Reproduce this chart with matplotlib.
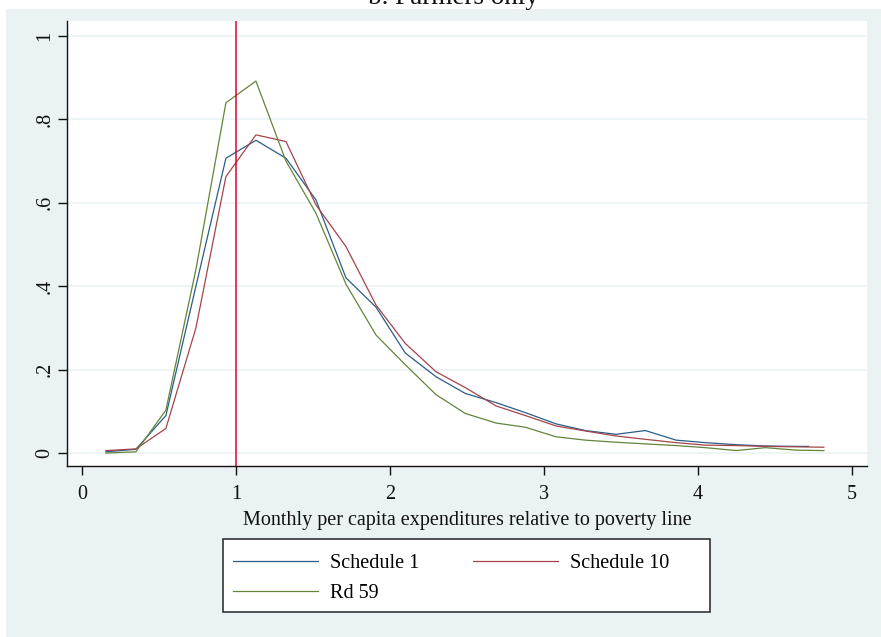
import matplotlib
matplotlib.use("Agg")
import matplotlib.pyplot as plt
from matplotlib.patches import Rectangle

# ---- data ----
x_s1 = [0.155, 0.35, 0.545, 0.74, 0.935, 1.13, 1.325, 1.52, 1.715, 1.91, 2.10, 2.30,
        2.49, 2.69, 2.88, 3.08, 3.27, 3.47, 3.66, 3.86, 4.05, 4.25, 4.44, 4.64, 4.72]
y_s1 = [0.003, 0.009, 0.090, 0.400, 0.707, 0.750, 0.707, 0.607, 0.420, 0.350, 0.240, 0.183,
        0.143, 0.121, 0.097, 0.070, 0.054, 0.045, 0.054, 0.031, 0.025, 0.020, 0.017, 0.016, 0.016]

x_s10 = [0.155, 0.35, 0.545, 0.74, 0.935, 1.13, 1.325, 1.52, 1.715, 1.91, 2.10, 2.30,
         2.49, 2.69, 2.88, 3.08, 3.27, 3.47, 3.66, 3.86, 4.05, 4.25, 4.44, 4.64, 4.82]
y_s10 = [0.006, 0.010, 0.059, 0.300, 0.663, 0.763, 0.747, 0.595, 0.495, 0.355, 0.263, 0.195,
         0.157, 0.113, 0.090, 0.065, 0.053, 0.041, 0.033, 0.025, 0.019, 0.018, 0.016, 0.015, 0.014]

x_rd59 = [0.155, 0.35, 0.545, 0.74, 0.935, 1.13, 1.325, 1.52, 1.715, 1.91, 2.10, 2.30,
          2.49, 2.69, 2.88, 3.08, 3.27, 3.47, 3.66, 3.86, 4.05, 4.25, 4.44, 4.64, 4.82]
y_rd59 = [0.000, 0.003, 0.103, 0.440, 0.840, 0.892, 0.700, 0.575, 0.405, 0.283, 0.212, 0.140,
          0.095, 0.072, 0.062, 0.039, 0.031, 0.026, 0.022, 0.018, 0.013, 0.006, 0.013, 0.007, 0.006]

series_labels = ["Schedule 1", "Schedule 10", "Rd 59"]
poverty_line = 1
x_ticks = [0, 1, 2, 3, 4, 5]
y_ticks = [0, 0.2, 0.4, 0.6, 0.8, 1]
y_tick_labels = ["0", ".2", ".4", ".6", ".8", "1"]
title = "b. Farmers only"
x_label = "Monthly per capita expenditures relative to poverty line"

# ---- style ----
plt.rcParams['font.family'] = ['Liberation Serif', 'DejaVu Serif']
W, H = 881, 637
bg = "#EAF2F3"
c_blue = "#2a5d88"
c_red = "#a4444a"
c_green = "#64843a"
ink = "#111111"

fig = plt.figure(figsize=(W / 100, H / 100), dpi=100, facecolor="white")
fig.patches.append(Rectangle((6 / W, 0), 1 - 6 / W, 1 - 9 / H, transform=fig.transFigure,
                             facecolor=bg, edgecolor="none", zorder=-10))

ax = fig.add_axes([67 / W, 1 - 466 / H, 800 / W, 445 / H])
ax.set_facecolor("white")
ax.set_xlim(-0.0975, 5.10)
ax.set_ylim(-0.031, 1.036)

for yt in y_ticks:
    ax.axhline(yt, color=bg, lw=1.2, zorder=0)

l1, = ax.plot(x_s1, y_s1, color=c_blue, lw=0.9, label=series_labels[0])
l2, = ax.plot(x_s10, y_s10, color=c_red, lw=0.9, label=series_labels[1])
l3, = ax.plot(x_rd59, y_rd59, color=c_green, lw=0.9, label=series_labels[2])
ax.axvline(poverty_line, color="#e3002b", lw=1.1, zorder=3)

for side in ["top", "right"]:
    ax.spines[side].set_visible(False)
for side in ["left", "bottom"]:
    ax.spines[side].set_color(ink)
    ax.spines[side].set_linewidth(1.0)

ax.set_xticks(x_ticks)
ax.set_xticklabels([str(t) for t in x_ticks])
ax.set_yticks(y_ticks)
ax.set_yticklabels(y_tick_labels, rotation=90, va="center")
ax.tick_params(axis="both", direction="out", length=6.5, width=1.0, color=ink,
               labelsize=14.5, labelcolor=ink)
ax.tick_params(axis="x", pad=7.5)
ax.tick_params(axis="y", pad=2.5)
ax.set_xlabel(x_label, fontsize=14.5, color=ink, labelpad=5)

fig.text(453 / W, 1 - 4 / H, title, ha="center", va="baseline", fontsize=19.5, color=ink)

# legend frame drawn as a figure rectangle, entries placed row-wise
fig.patches.append(Rectangle((223 / W, 1 - 612 / H), 487 / W, 73 / H, transform=fig.transFigure,
                             facecolor="white", edgecolor="#333333", lw=1.2, zorder=5))
leg = fig.legend(handles=[l1, l3, l2], labels=[series_labels[0], series_labels[2], series_labels[1]],
                 loc="upper left", bbox_to_anchor=(221 / W, 1 - 542 / H),
                 ncol=2, borderaxespad=0, fontsize=14.5,
                 handlelength=4.2, handletextpad=0.6, labelspacing=0.55,
                 columnspacing=2.7, borderpad=0.6, frameon=False)
leg.set_zorder(6)

fig.savefig("out.png", dpi=100, facecolor=fig.get_facecolor())
